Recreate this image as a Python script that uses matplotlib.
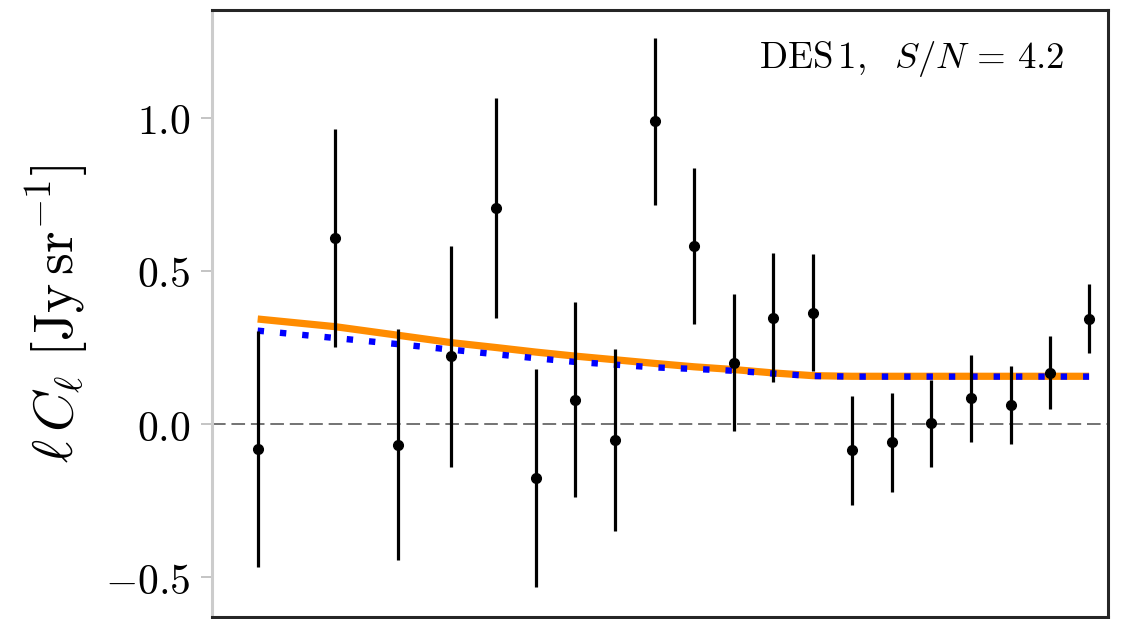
import matplotlib
matplotlib.use("Agg")
import matplotlib.pyplot as plt
from matplotlib.ticker import FixedLocator, FuncFormatter, NullLocator

plt.rcParams["mathtext.fontset"] = "cm"
plt.rcParams["font.family"] = "serif"
plt.rcParams["font.serif"] = ["DejaVu Serif"]

# Multipole bin centres
ell = [100, 143, 191, 244, 300, 361, 432, 520, 625, 749,
       900, 1078, 1297, 1552, 1867, 2236, 2689, 3234, 3872, 4637]

# Measured ell*C_ell and 1-sigma errors [Jy/sr]
cl_data = [-0.081, 0.607, -0.067, 0.221, 0.706, -0.176, 0.080, -0.051, 0.988, 0.581,
           0.201, 0.347, 0.364, -0.086, -0.060, 0.002, 0.084, 0.062, 0.168, 0.344]
cl_err = [0.385, 0.356, 0.378, 0.361, 0.360, 0.357, 0.317, 0.297, 0.272, 0.254,
          0.224, 0.210, 0.190, 0.177, 0.163, 0.142, 0.141, 0.127, 0.119, 0.112]

# Model curves
model_full = [0.343, 0.318, 0.290, 0.266, 0.250, 0.235, 0.222, 0.210, 0.198, 0.187,
              0.178, 0.167, 0.158, 0.156, 0.156, 0.156, 0.156, 0.156, 0.156, 0.156]
model_alt = [0.305, 0.281, 0.261, 0.243, 0.228, 0.215, 0.203, 0.194, 0.185, 0.180,
             0.174, 0.165, 0.157, 0.155, 0.155, 0.155, 0.155, 0.155, 0.155, 0.155]

yticks = [-0.5, 0.0, 0.5, 1.0]
label_text = r"$\mathrm{DES\,1,}\ \ S/N\,=\,4.2$"

fig = plt.figure(figsize=(11.24, 6.19), dpi=100)
ax = fig.add_axes([212 / 1124, 2 / 619, 896 / 1124, 607 / 619])

ax.axhline(0.0, color="0.45", lw=1.4, dashes=(7, 3), zorder=1)
ax.plot(ell, model_full, color="#ff8c00", lw=5.2, solid_capstyle="butt", zorder=2)
ax.plot(ell, model_alt, color="#0000ff", lw=4.6, dashes=(1, 2.5),
        dash_capstyle="butt", zorder=3)
ax.errorbar(ell, cl_data, yerr=cl_err, fmt="o", color="black", ms=7,
            elinewidth=2.3, capsize=0, zorder=4)

ax.set_xscale("log")
ax.set_xlim(81, 5060)
ax.set_ylim(-0.63, 1.352)
ax.xaxis.set_major_locator(NullLocator())
ax.xaxis.set_minor_locator(NullLocator())

ax.yaxis.set_major_locator(FixedLocator(yticks))
ax.yaxis.set_major_formatter(FuncFormatter(lambda v, p: r"$%.1f$" % v))
ax.tick_params(axis="y", labelsize=30, length=8, width=1.3, color="0.75",
               direction="out", pad=7.5)

for side in ["top", "right", "bottom"]:
    ax.spines[side].set_linewidth(2.2)
    ax.spines[side].set_color("0.15")
ax.spines["left"].set_linewidth(2.2)
ax.spines["left"].set_color("0.8")

ax.set_ylabel(r"$\ell\, C_\ell\ [\mathrm{Jy\,sr^{-1}}]$", fontsize=40)
ax.yaxis.set_label_coords(-0.136, 0.5)

ax.text(0.952, 0.92, label_text, transform=ax.transAxes, ha="right", va="center",
        fontsize=26.5)

fig.savefig("out.png", dpi=100)
